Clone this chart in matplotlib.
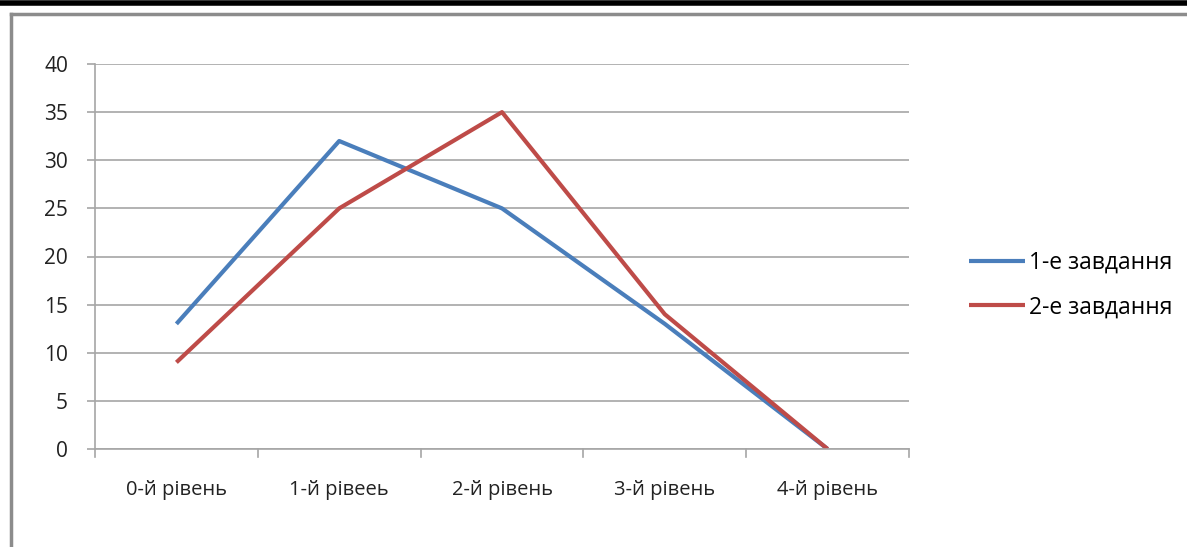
import matplotlib.pyplot as plt
from matplotlib.lines import Line2D

# Data
levels = ["0-й рівень", "1-й рівеeь", "2-й рівень", "3-й рівень", "4-й рівень"]
task1 = [13, 32, 25, 13, 0]
task2 = [9, 25, 35, 14, 0]
series_names = ["1-е завдання", "2-е завдання"]

plt.rcParams['font.family'] = ['Open Sans', 'DejaVu Sans']

W, H = 1187, 547
fig = plt.figure(figsize=(W / 100, H / 100), dpi=100)

# plot area in pixels: x 95..909, y 64..449
ax = fig.add_axes([95 / W, 1 - 449 / H, (909 - 95) / W, (449 - 64) / H])

x = list(range(len(levels)))
ax.plot(x, task1, color="#4a7ebb", lw=3, label=series_names[0], solid_capstyle="butt")
ax.plot(x, task2, color="#be4b48", lw=3, label=series_names[1], solid_capstyle="butt")

ax.set_xlim(-0.5, len(levels) - 0.5)
ax.set_ylim(0, 40)
ax.set_yticks(range(0, 41, 5))
ax.grid(axis="y", color="#a6a6a6", lw=1.2)
ax.set_axisbelow(True)

ax.set_xticks(x)
ax.set_xticklabels(levels)
ax.tick_params(axis="x", length=0, pad=22, labelsize=14.5, colors="#222222")
ax.tick_params(axis="y", length=6, width=1.2, color="#a6a6a6", pad=13.5, labelsize=15, labelcolor="#222222")
# category boundary ticks
for b in [i - 0.5 for i in range(len(levels) + 1)]:
    ax.plot([b, b], [0, -0.85], color="#a6a6a6", lw=1.2, clip_on=False)

for s in ["top", "right"]:
    ax.spines[s].set_visible(False)
for s in ["left", "bottom"]:
    ax.spines[s].set_color("#a6a6a6")
    ax.spines[s].set_linewidth(1.2)

ax.legend(loc="center left", bbox_to_anchor=(969 / W, 1 - 285 / H), bbox_transform=fig.transFigure,
          frameon=False, fontsize=16.5, handlelength=2.45, handletextpad=0.15, labelspacing=0.9,
          borderpad=0, borderaxespad=0)

# outer frame
fig.add_artist(Line2D([0, 1], [1 - 3 / H, 1 - 3 / H], color="black", lw=4, transform=fig.transFigure))
fig.add_artist(Line2D([11 / W, 1], [1 - 14 / H, 1 - 14 / H], color="#8c8c8c", lw=2.5, transform=fig.transFigure))
fig.add_artist(Line2D([11 / W, 11 / W], [0, 1 - 14 / H], color="#8c8c8c", lw=2.5, transform=fig.transFigure))

fig.savefig("out.png", dpi=100)
